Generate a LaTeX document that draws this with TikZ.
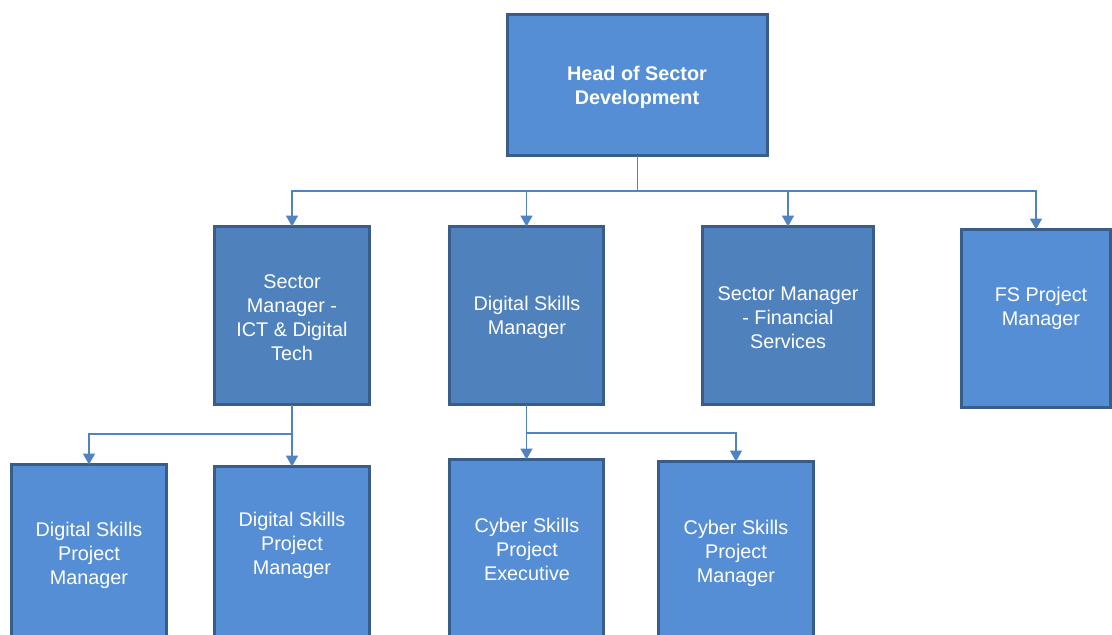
\documentclass[tikz,border=0pt]{standalone}
\usepackage{fontspec}
\setmainfont{Liberation Sans}
\usetikzlibrary{arrows.meta}
\definecolor{lightfill}{HTML}{558ED5}
\definecolor{darkfill}{HTML}{4F81BD}
\definecolor{boxborder}{HTML}{385D8A}
\definecolor{connline}{HTML}{4F83C2}
\tikzset{
  box/.style={draw=boxborder, line width=3pt, rectangle, anchor=north west, inner sep=0pt, outer sep=0pt},
  lbox/.style={box, fill=lightfill},
  dbox/.style={box, fill=darkfill},
  lbl/.style={text=white, align=center, font=\fontsize{19.8}{24}\selectfont, inner sep=0pt},
  conn/.style={draw=connline, line width=1.6pt},
  arr/.style={conn, -{Triangle[width=12pt,length=11pt]}}
}
\begin{document}
\begin{tikzpicture}[x=1pt,y=-1pt]
\useasboundingbox (0,0) rectangle (1112,635);
\clip (0,0) rectangle (1112,635);
\fill[white] (0,0) rectangle (1112,635);
% boxes
\node[lbox, minimum width=260pt, minimum height=141pt] (head) at (507.5,14.5) {};
\node[dbox, minimum width=155pt, minimum height=178pt] (ict) at (214.5,226.5) {};
\node[dbox, minimum width=154pt, minimum height=178pt] (dsm) at (449.5,226.5) {};
\node[dbox, minimum width=171pt, minimum height=178pt] (smfs) at (702.5,226.5) {};
\node[lbox, minimum width=149pt, minimum height=178pt] (fs) at (961.5,229.5) {};
\node[lbox, minimum width=155pt, minimum height=200pt] (dspm1) at (11.5,464.5) {};
\node[lbox, minimum width=155pt, minimum height=200pt] (dspm2) at (214.5,466.5) {};
\node[lbox, minimum width=154pt, minimum height=200pt] (cspe) at (449.5,459.5) {};
\node[lbox, minimum width=155pt, minimum height=200pt] (cspm) at (658.5,461.5) {};
% labels
\node[lbl, font=\fontsize{19.8}{24}\selectfont\bfseries] (thead) at (637,87.5) {Head of Sector\\Development};
\node[lbl] (tict) at (292,317.5) {Sector\\Manager -\\ICT \& Digital\\Tech};
\node[lbl] (tdsm) at (527,317.5) {Digital Skills\\Manager};
\node[lbl] (tsmfs) at (788,317.5) {Sector Manager\\- Financial\\Services};
\node[lbl] (tfs) at (1041,308.5) {FS Project\\Manager};
\node[lbl] (tdspm1) at (89,555.5) {Digital Skills\\Project\\Manager};
\node[lbl] (tdspm2) at (292,545.5) {Digital Skills\\Project\\Manager};
\node[lbl] (tcspe) at (527,549.5) {Cyber Skills\\Project\\Executive};
\node[lbl] (tcspm) at (736,553.5) {Cyber Skills\\Project\\Manager};
% connectors
\coordinate (bus1) at (637,191);
\draw[conn] (head.south) -- (head.south |- bus1);
\draw[arr] (head.south |- bus1) -| (ict.north);
\draw[arr] (head.south |- bus1) -| (dsm.north);
\draw[arr] (head.south |- bus1) -| (smfs.north);
\draw[arr] (head.south |- bus1) -| (fs.north);
\coordinate (bus2) at (292,434);
\draw[arr] (ict.south) -- (dspm2.north);
\draw[arr] (ict.south |- bus2) -| (dspm1.north);
\coordinate (bus3) at (527,433);
\draw[arr] (dsm.south) -- (cspe.north);
\draw[arr] (dsm.south |- bus3) -| (cspm.north);
\end{tikzpicture}
\end{document}
